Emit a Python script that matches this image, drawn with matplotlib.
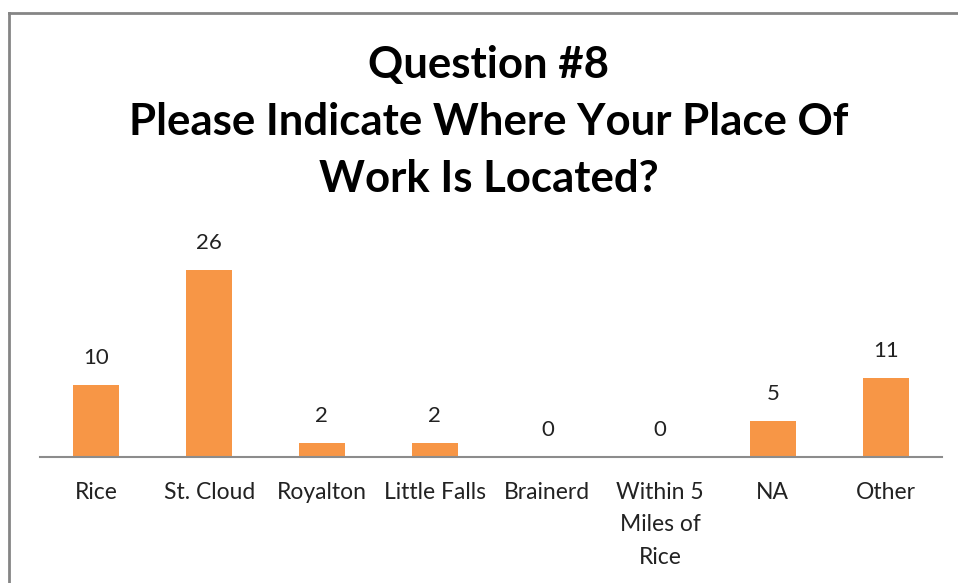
import matplotlib.pyplot as plt
from matplotlib.lines import Line2D

categories = ["Rice", "St. Cloud", "Royalton", "Little Falls", "Brainerd",
              "Within 5\nMiles of\nRice", "NA", "Other"]
counts = [10, 26, 2, 2, 0, 0, 5, 11]
title = "Question #8\nPlease Indicate Where Your Place Of\nWork Is Located?"

W, H = 958, 583
fig = plt.figure(figsize=(W / 100, H / 100), dpi=100)

# gray outer frame (only top and left visible in the crop)
fig.add_artist(Line2D([9 / W, 9 / W], [0, 1 - 13 / H], transform=fig.transFigure,
                      color="#858585", linewidth=2))
fig.add_artist(Line2D([9 / W, 1], [1 - 13 / H, 1 - 13 / H], transform=fig.transFigure,
                      color="#858585", linewidth=2))

# axes: baseline at y=457 px, x from 40 to 942 px
ymax = 30
px_per_unit = (457 - 270) / 26
ax_h = ymax * px_per_unit
ax = fig.add_axes([40 / W, (H - 457) / H, 902 / W, ax_h / H])

x = range(len(categories))
ax.bar(x, counts, width=0.41, color="#F79646")
ax.set_xlim(-0.5, len(categories) - 0.5)
ax.set_ylim(0, ymax)

for xi, v in zip(x, counts):
    ax.annotate(str(v), (xi, v), xytext=(0, 27), textcoords="offset pixels",
                ha="center", va="center", fontsize=16, family="Lato", color="#222222")

ax.set_xticks(list(x))
ax.set_xticklabels(categories, fontsize=16.5, family="Lato", color="#222222",
                   linespacing=1.67)
ax.tick_params(axis="x", length=0, pad=18)
ax.set_yticks([])
for s in ["top", "right", "left"]:
    ax.spines[s].set_visible(False)
ax.spines["bottom"].set_color("#8C8C8C")
ax.spines["bottom"].set_linewidth(1.5)

fig.text(489 / W, 1 - 122 / H, title, ha="center", va="center", fontsize=31.5,
         fontweight="bold", family="Lato", linespacing=1.5)

fig.savefig("out.png", dpi=100)
